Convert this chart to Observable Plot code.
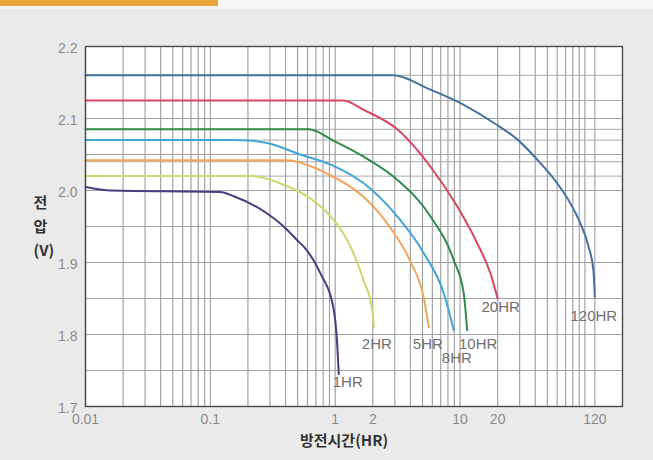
<!DOCTYPE html>
<html><head><meta charset="utf-8">
<script src="https://cdn.jsdelivr.net/npm/d3@7"></script>
<script src="https://cdn.jsdelivr.net/npm/@observablehq/plot@0.6"></script>
<style>
html,body{margin:0;padding:0;}
body{width:653px;height:460px;background:#ebeaea;position:relative;overflow:hidden;font-family:"Liberation Sans",sans-serif;}
#topband{position:absolute;left:0;top:0;width:653px;height:9px;background:#f7f6f4;}
#bar{position:absolute;left:0;top:0;width:218px;height:6px;background:#e9a43c;}
#chart{position:absolute;left:0;top:0;}
</style></head><body>
<div id="topband"></div><div id="bar"></div><div id="chart"></div>
<script>
// Discharge time (HR) vs. voltage (V) curves
const hr1   = [[0.01,2.005],[0.016,2.0],[0.12,1.998],[0.154,1.992],[0.285,1.968],[0.387,1.950],[0.496,1.931],[0.56,1.922],[0.762,1.885],[0.974,1.834],[1.037,1.787],[1.068,1.745]];
const hr2   = [[0.01,2.02],[0.216,2.02],[0.387,2.008],[0.717,1.982],[0.974,1.959],[1.25,1.931],[1.69,1.875],[1.98,1.834],[2.04,1.81]];
const hr5   = [[0.01,2.042],[0.412,2.042],[0.717,2.030],[0.917,2.021],[1.326,2.005],[1.69,1.991],[2.77,1.948],[4.01,1.901],[5.12,1.851],[5.62,1.81]];
const hr8   = [[0.01,2.07],[0.145,2.07],[0.22,2.069],[0.285,2.066],[0.527,2.05],[0.95,2.035],[1.69,2.01],[3.14,1.964],[5.12,1.913],[7.41,1.857],[8.91,1.806]];
const hr10  = [[0.01,2.085],[0.614,2.085],[0.974,2.069],[1.69,2.047],[3.14,2.015],[5.80,1.964],[8.91,1.903],[10.7,1.857],[11.4,1.806]];
const hr20  = [[0.01,2.125],[1.16,2.125],[1.69,2.112],[3.14,2.085],[5.80,2.033],[9.48,1.978],[13.7,1.927],[17.5,1.885],[20,1.85]];
const hr120 = [[0.01,2.16],[2.9,2.16],[5.8,2.14],[10.7,2.119],[19.8,2.091],[28.7,2.071],[44,2.038],[60,2.01],[76.6,1.982],[92,1.954],[107,1.922],[117,1.889],[120,1.852]];

const seriesNames = ["1HR","2HR","5HR","8HR","10HR","20HR","120HR"];
const seriesData  = [hr1, hr2, hr5, hr8, hr10, hr20, hr120];

const xTicks = [0.01,0.1,0.5,1,2,5,10,20,120];
const xTickLabels = ["0.01","0.1","0.5","1","2","5","10","20","120"];
const yTicks = [1.7,1.8,1.9,2.0,2.1,2.2];
const yGrid = [1.75,1.8,1.85,1.9,1.95,2.0,2.05,2.1];
const yLevels = [2.02,2.04,2.07,2.085,2.125,2.16];
const xGridExtra = [100,120];

// styling (not data)
const colors = ["#4e3b7e","#cad86c","#f2a55a","#3fa7d8","#2f8a4c","#d9445f","#44719f"];
const labelOffset = {"1HR":[9,8],"2HR":[3,17],"5HR":[-1,17],"8HR":[3,28],"10HR":[11,14],"20HR":[3,9],"120HR":[-1,19]};

const table = seriesNames.flatMap((s,i) => seriesData[i].map(([t,v]) => ({s, t, v})));
const ends = seriesNames.map((s,i) => { const p = seriesData[i][seriesData[i].length-1]; return {s, t:p[0], v:p[1]}; });

const xGrid = [];
for (const d of [0.01,0.1,1,10]) for (let k=1;k<=9;k++) xGrid.push(+(k*d).toPrecision(3));
xGrid.push(...xGridExtra);

const plot = Plot.plot({
  width: 653, height: 460,
  marginLeft: 85, marginRight: 31, marginTop: 46, marginBottom: 54,
  style: {background: "transparent", fontFamily: "'Liberation Sans', sans-serif", fontSize: "14px", color: "#8a8a8a"},
  x: {type: "log", domain: [0.01, 200], label: null},
  y: {domain: [1.7, 2.2], label: null},
  color: {domain: seriesNames, range: colors},
  marks: [
    Plot.frame({fill: "white", stroke: null}),
    Plot.ruleX(xGrid, {stroke: "#a2a2a2", strokeWidth: 1.2}),
    Plot.ruleY(yGrid, {stroke: "#a2a2a2", strokeWidth: 1.2}),
    Plot.ruleY(yLevels, {stroke: "#a8a8a8", strokeWidth: 1}),
    Plot.line(table, {x: "t", y: "v", z: "s", stroke: "s", strokeWidth: 2, curve: "monotone-x"}),
    Plot.frame({stroke: "#4a4a4a", strokeWidth: 1.4}),
    ...ends.map(e => Plot.text([e], {x: "t", y: "v", text: "s", dx: labelOffset[e.s][0], dy: labelOffset[e.s][1], fill: "#707070", fontSize: 15, textAnchor: "middle"})),
    Plot.axisX({ticks: xTicks, tickSize: 0, tickPadding: 8, tickFormat: d => xTickLabels[xTicks.indexOf(d)], fontSize: 14}),
    Plot.axisY({ticks: yTicks, tickSize: 0, tickPadding: 8, tickFormat: d => d.toFixed(1), fontSize: 14, dy: 2}),
    Plot.text(["방전시간(HR)"], {frameAnchor: "bottom", text: d => d, dx: -10, dy: 39, fontSize: 15, fontWeight: "bold", fill: "#333", fontFamily: "'Noto Sans CJK KR', sans-serif"}),
    Plot.text(["전\n압\n(V)"], {frameAnchor: "left", text: d => d, dx: -52, dy: -2, fontSize: 15, lineHeight: 1.6, fontWeight: "bold", fill: "#333", fontFamily: "'Noto Sans CJK KR', sans-serif"})
  ]
});
document.getElementById("chart").appendChild(plot);
</script></body></html>
